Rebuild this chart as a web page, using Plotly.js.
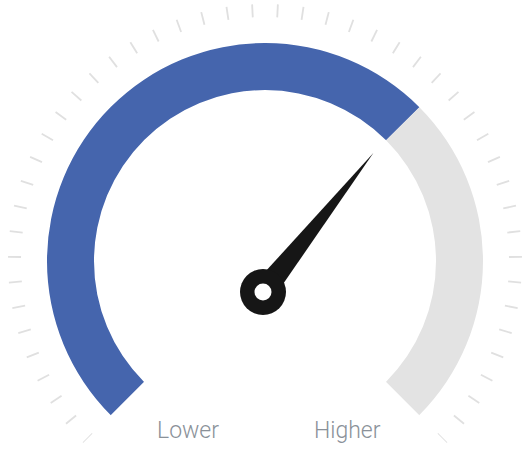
<!DOCTYPE html>
<html>
<head>
<meta charset="utf-8">
<script src="https://cdn.plot.ly/plotly-3.0.1.min.js"></script>
<style>html,body{margin:0;padding:0;background:#fff;}#chart{width:527px;height:451px;}</style>
</head>
<body>
<div id="chart"></div>
<script>
// ---- data ----
const scaleRange = [0, 100];
const segmentNames = ["Filled", "Remaining"];
const segmentStart = [0, 66.7];
const segmentEnd = [66.7, 100];
const segmentColors = ["#4565ad", "#e3e3e3"];
const needleValue = [66.7];
const scaleLabels = ["Lower", "Higher"];
const scaleLabelX = [-77, 82];
const tickCount = 48;

// ---- geometry/style ----
const SWEEP = 270;          // degrees of the dial
const R_MAX = 260;          // radial axis max
const TICK_IN = 244, TICK_OUT = 257;
const ARC_IN = 171, ARC_OUT = 218;
const NEEDLE_LEN = 153;     // tip radius from dial centre
const HUB = [-2, -31];      // hub offset from dial centre
const NEEDLE_HALF = 12;

const toTheta = v => (v - scaleRange[0]) / (scaleRange[1] - scaleRange[0]) * SWEEP;

const traces = [];

// tick marks (evenly spaced over the scale)
const tickR = [], tickT = [];
for (let i = 0; i < tickCount; i++) {
  const v = scaleRange[0] + i * (scaleRange[1] - scaleRange[0]) / (tickCount - 1);
  tickR.push(TICK_IN, TICK_OUT, null);
  tickT.push(toTheta(v), toTheta(v), null);
}
traces.push({
  type: 'scatterpolar', mode: 'lines', r: tickR, theta: tickT,
  line: {color: '#e0e0e0', width: 1.8}, connectgaps: false,
  cliponaxis: false, hoverinfo: 'skip', subplot: 'polar'
});

segmentNames.forEach((n, i) => {
  const t0 = toTheta(segmentStart[i]), t1 = toTheta(segmentEnd[i]);
  traces.push({
    type: 'barpolar', name: n,
    r: [ARC_OUT - ARC_IN], base: [ARC_IN],
    theta: [(t0 + t1) / 2], width: [t1 - t0],
    marker: {color: segmentColors[i], line: {width: 0}},
    hoverinfo: 'skip', subplot: 'polar'
  });
});

// needle in cartesian overlay (units = px from dial centre)
const ang = (225 - toTheta(needleValue[0])) * Math.PI / 180;
const tip = [NEEDLE_LEN * Math.cos(ang), NEEDLE_LEN * Math.sin(ang)];
const dx = tip[0] - HUB[0], dy = tip[1] - HUB[1];
const L = Math.hypot(dx, dy);
const px = -dy / L * NEEDLE_HALF, py = dx / L * NEEDLE_HALF;
traces.push({
  type: 'scatter', mode: 'lines', fill: 'toself',
  x: [HUB[0] + px, tip[0], HUB[0] - px, HUB[0] + px],
  y: [HUB[1] + py, tip[1], HUB[1] - py, HUB[1] + py],
  line: {width: 0, color: '#161616'}, fillcolor: '#161616',
  hoverinfo: 'skip', xaxis: 'x', yaxis: 'y'
});
traces.push({
  type: 'scatter', mode: 'markers', x: [HUB[0]], y: [HUB[1]],
  marker: {size: 46, color: '#161616', line: {width: 0}},
  hoverinfo: 'skip'
});
traces.push({
  type: 'scatter', mode: 'markers', x: [HUB[0]], y: [HUB[1]],
  marker: {size: 17, color: '#ffffff', line: {width: 0}},
  hoverinfo: 'skip'
});

const layout = {
  width: 527, height: 451,
  margin: {l: 5, r: 2, t: 1, b: 6, pad: 0},
  paper_bgcolor: '#ffffff', plot_bgcolor: 'rgba(0,0,0,0)',
  showlegend: false,
  polar: {
    domain: {x: [0, 1], y: [0, 1]},
    sector: [-45, 225],
    bgcolor: 'rgba(0,0,0,0)',
    bargap: 0,
    radialaxis: {range: [0, R_MAX], visible: false, showgrid: false},
    angularaxis: {
      rotation: 225, direction: 'clockwise', thetaunit: 'degrees',
      showgrid: false, showline: false, showticklabels: false, ticks: ''
    }
  },
  xaxis: {domain: [0, 1], range: [-260, 260], visible: false, fixedrange: true},
  yaxis: {domain: [0, 1], range: [-184, 260], visible: false, fixedrange: true},
  annotations: scaleLabels.map((t, i) => ({
    text: t, x: scaleLabelX[i], y: -169, xref: 'x', yref: 'y',
    showarrow: false, xanchor: 'center', yanchor: 'middle',
    font: {family: 'Roboto, sans-serif', size: 23, weight: 300, color: '#8a9199'}
  }))
};

Plotly.newPlot('chart', traces, layout, {staticPlot: true, displayModeBar: false});
</script>
</body>
</html>
